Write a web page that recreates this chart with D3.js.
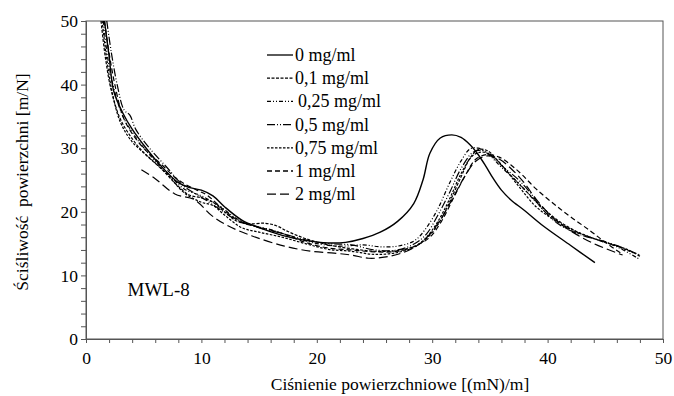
<!DOCTYPE html>
<html>
<head>
<meta charset="utf-8">
<script src="https://cdn.jsdelivr.net/npm/d3@7"></script>
</head>
<body style="margin:0;background:#fff">
<svg id="chart" width="674" height="396" style="display:block"></svg>
<script>
// series labels (legend order)
const seriesNames = ['0 mg/ml', '0,1 mg/ml', '0,25 mg/ml', '0,5 mg/ml', '0,75 mg/ml', '1 mg/ml', '2 mg/ml'];
const xTicks = [0, 10, 20, 30, 40, 50];
const yTicks = [0, 10, 20, 30, 40, 50];

// [surface pressure, compressibility]
const s0 = [[1.6,50],[2,44.5],[2.4,39],[3.2,35.5],[4,33],[5.3,29.8],[6.5,27.2],[8,24.6],[9,23.8],[10,23.4],[11,22.5],[12,20.8],[13.5,18.7],[15,17.5],[17,16.3],[19,15.5],[21,15.1],[22.5,15.2],[24,15.8],[25.5,16.8],[27,18.5],[28.4,21.3],[29.2,25],[29.8,29.2],[30.7,31.6],[31.7,32.1],[32.5,31.7],[33.3,30.5],[33.9,29.2],[34.6,27.3],[35.3,25.2],[36,23.4],[36.8,21.9],[38,20.2],[39.6,17.8],[42,14.7],[44.1,12]];
const s1 = [[1.3,50],[1.7,44],[2.2,39],[3,34.5],[4,31.5],[5,29.3],[6.5,26.8],[8,24],[9,22.6],[10,22.2],[11,21.5],[12,20],[13,18.6],[14,18.1],[15.5,18.2],[16.5,17.8],[17.5,16.9],[19,15.8],[21,14.8],[23,14.2],[25,13.8],[27,13.9],[28.5,14.6],[29.5,15.8],[30.5,18],[31.5,21.5],[32.5,25.5],[33.3,28.5],[34,29.8],[34.8,29.6],[35.5,28.4],[36.5,26.3],[38,23.5],[39.5,20.8],[41,18.5],[43,16.5],[45,15.2],[47,14],[48,13]];
const s2 = [[1.5,50],[1.9,44],[2.4,39.5],[3.2,35],[4.2,32],[5.5,29],[7,26.2],[8.5,23.6],[10,22.5],[11.5,21],[13,19],[14.5,17.8],[16,17.2],[18,16],[20,15],[22,14.6],[24,14.8],[25.5,14.5],[27,14.6],[28.5,15.5],[29.5,17.5],[30.5,20.5],[31.5,24.5],[32.5,28],[33.3,29.9],[34,30],[35,28.8],[36,27],[37.5,24.5],[39,21.5],[40.5,19],[42,17.2],[44,15.8],[46,14.5],[48,12.5]];
const s3 = [[1.8,50],[2.2,45],[2.7,40],[3.3,36],[3.8,35.2],[4.3,33],[5.5,30],[7,27],[8.5,24],[10,22.3],[11.5,20.5],[13,18.8],[15,17.5],[17,16.6],[19,15.6],[21,15],[23,14.8],[25,14],[27,14],[28.5,15],[29.5,16.5],[30.5,19.5],[31.5,23],[32.5,26.8],[33.5,29.3],[34.3,29.7],[35,29],[36,27.3],[37.5,25],[38.5,23],[39.5,20.5],[41,18],[43,16.3],[45,15.3],[47,14],[48,13.2]];
const s4 = [[1.4,50],[1.8,44],[2.3,38.5],[3,34],[4,31],[5.5,28.5],[7,26],[8.5,23],[10,21.5],[11,21],[12,19.5],[13.5,17.5],[15,16.8],[17,16],[19,15],[21,14.1],[23,13.8],[25,13.3],[27,13.6],[28.5,14.5],[29.5,16],[30.5,18.5],[31.5,22],[32.5,26],[33.5,28.8],[34.3,29.4],[35,29],[36,27.4],[37.5,24],[39,20.8],[40.5,18.8],[42,17.3],[44,15.8],[46,14.6],[47.5,13.5]];
const s5 = [[1.6,50],[2,45],[2.5,40],[3.2,35],[4,32.3],[5,30],[6.5,27.5],[8,25],[9.5,23.5],[10.5,22.6],[12,20.2],[13.5,18.3],[15,17.6],[17,16.6],[19,15.2],[21,14.3],[23,14],[25,13.7],[27,13.8],[28.5,14.6],[29.8,16],[30.8,18.5],[31.8,22],[32.8,25.5],[33.8,28.3],[34.8,29],[35.8,28.6],[36.8,27.4],[37.8,25.8],[39,23.6],[40.5,21.3],[42,19.2],[43.7,17],[45,15.2],[46.5,13.3]];
const s6 = [[4.8,26.6],[6,25.2],[7.7,22.8],[9.4,21.9],[10.9,19.4],[12.3,17.8],[14.4,16.2],[17.2,14.6],[19.5,13.8],[21.5,13.5],[23,13.2],[24.5,12.7],[26,12.9],[27.5,13.6],[28.8,14.8],[29.8,16.5],[30.8,19],[31.8,22.2],[32.8,25.5],[33.8,28],[34.8,28.8],[35.8,28.3],[37,26.5],[38,24.5],[39,22],[40.5,19],[42,17],[44,15],[46.5,13.2]];

const seriesData = [s0, s1, s2, s3, s4, s5, s6];
const dashes = [null, '3,1.5', '4,2,1,2,1,2', '8,2,1,2,1,2', '2.5,1.5', '5,3', '9,4'];
const FONT = "'Liberation Serif'";

const svg = d3.select('#chart');
const margin = {top: 21, right: 11, bottom: 57, left: 86};
const width = 674 - margin.left - margin.right;
const height = 396 - margin.top - margin.bottom;

const x = d3.scaleLinear().domain([0, 50]).range([0, width]);
const y = d3.scaleLinear().domain([0, 50]).range([height, 0]);

const g = svg.append('g')
  .attr('transform', 'translate(' + margin.left + ',' + margin.top + ')');

// frame
g.append('rect')
  .attr('width', width).attr('height', height)
  .attr('fill', 'none').attr('stroke', '#555').attr('stroke-width', 1);

const xAxis = g.append('g')
  .attr('transform', 'translate(0,' + height + ')')
  .call(d3.axisBottom(x).tickValues(d3.range(0, 51, 2)).tickSize(4)
    .tickFormat(d => xTicks.includes(d) ? d : ''));
xAxis.attr('font-family', null).attr('font-size', null);
xAxis.select('.domain').attr('stroke', '#555');
xAxis.selectAll('.tick line').attr('stroke', '#555');
xAxis.selectAll('.tick text')
  .style('font-family', FONT).attr('font-size', 17.5)
  .attr('fill', '#000').attr('dy', '1.05em');

const yAxis = g.append('g')
  .call(d3.axisLeft(y).tickValues(d3.range(0, 51, 2)).tickSize(5)
    .tickFormat(d => yTicks.includes(d) ? d : ''));
yAxis.attr('font-family', null).attr('font-size', null);
yAxis.select('.domain').attr('stroke', '#555');
yAxis.selectAll('.tick line').attr('stroke', '#555');
yAxis.selectAll('.tick text')
  .style('font-family', FONT).attr('font-size', 17.5)
  .attr('fill', '#000').attr('x', -8);

const line = d3.line()
  .x(d => x(d[0]))
  .y(d => y(d[1]))
  .curve(d3.curveCatmullRom.alpha(0.5));

const clip = g.append('clipPath').attr('id', 'plotclip');
clip.append('rect').attr('width', width).attr('height', height);

g.append('g').attr('clip-path', 'url(#plotclip)')
  .selectAll('path.series')
  .data(seriesData)
  .enter().append('path')
  .attr('class', 'series')
  .attr('d', line)
  .attr('fill', 'none')
  .attr('stroke', '#000')
  .attr('stroke-width', (d, i) => i === 0 ? 1.4 : 1.2)
  .attr('stroke-dasharray', (d, i) => dashes[i]);

// legend
const legend = g.append('g').attr('transform', 'translate(181,34)');
const rows = legend.selectAll('g')
  .data(seriesNames)
  .enter().append('g')
  .attr('transform', (d, i) => 'translate(0,' + (i * 23.2) + ')');
rows.append('line')
  .attr('x1', 0).attr('x2', 26).attr('y1', 0).attr('y2', 0)
  .attr('stroke', '#000').attr('stroke-width', 1.3)
  .attr('stroke-dasharray', (d, i) => dashes[i]);
rows.append('text')
  .attr('x', (d, i) => i === 2 ? 31 : 28).attr('y', 0).attr('dy', '0.33em')
  .style('font-family', FONT).attr('font-size', 18)
  .text(d => d);

g.append('text')
  .attr('x', x(3.6)).attr('y', y(6.8))
  .style('font-family', FONT).attr('font-size', 19)
  .text('MWL-8');

svg.append('text')
  .attr('x', 400).attr('y', 390)
  .attr('text-anchor', 'middle')
  .style('font-family', FONT).attr('font-size', 17.5)
  .text('Ciśnienie powierzchniowe [(mN)/m]');

svg.append('text')
  .attr('transform', 'translate(28,' + (margin.top + height / 2 + 2) + ') rotate(-90)')
  .attr('text-anchor', 'middle')
  .style('font-family', FONT).attr('font-size', 17.5)
  .style('white-space', 'pre')
  .text('Ściśliwość  powierzchni [m/N]');
</script>
</body>
</html>
